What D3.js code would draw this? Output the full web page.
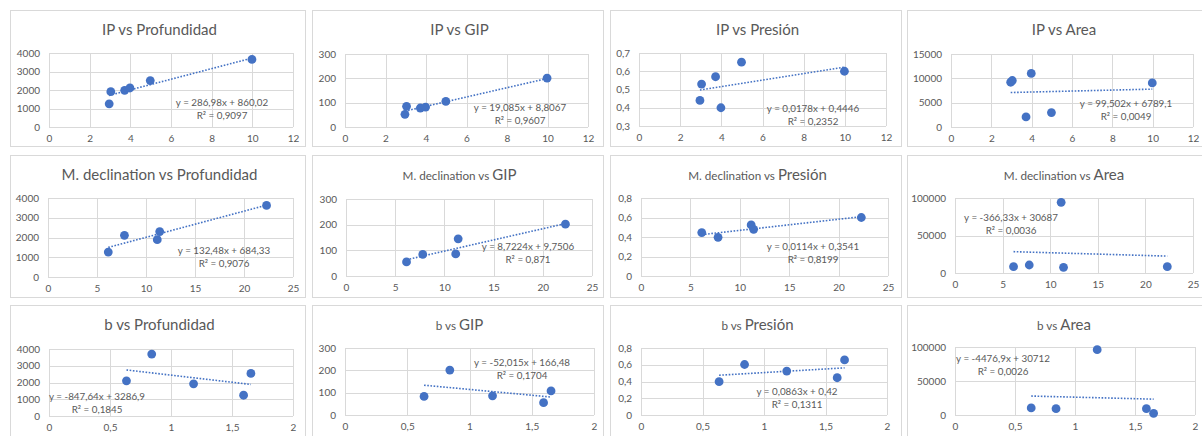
<!DOCTYPE html>
<html><head><meta charset="utf-8">
<script src="https://cdn.jsdelivr.net/npm/d3@7"></script>
<style>
html,body{margin:0;padding:0;background:#fff;}
svg{display:block;font-family:Lato,"Open Sans",sans-serif;}
</style></head><body>
<svg id="chart" width="1202" height="436"></svg>
<script>
// Independent variables, one per row of charts
const ipValues = [2.96, 3.04, 3.72, 3.98, 4.98, 9.98];
const declinationValues = [6.15, 7.8, 11.15, 11.4, 22.3];
const bValues = [0.635, 0.842, 1.185, 1.595, 1.655];

// Dependent variables
const ipProfundidad = [1255, 1909, 1982, 2109, 2509, 3655];
const ipGip = [52, 85, 78, 82, 105, 201];
const ipPresion = [0.44, 0.53, 0.57, 0.40, 0.65, 0.60];
const ipArea = [9200, 9550, 2070, 11000, 2970, 9050];

const declProfundidad = [1260, 2111, 1889, 2298, 3626];
const declGip = [55, 84, 86, 145, 202];
const declPresion = [0.445, 0.397, 0.524, 0.479, 0.6];
const declArea = [8444, 10667, 94222, 7556, 8444];

const bProfundidad = [2100, 3700, 1920, 1240, 2540];
const bGip = [83, 201, 86, 55, 108];
const bPresion = [0.398, 0.603, 0.524, 0.445, 0.658];
const bArea = [10345, 9360, 96059, 9360, 2463];

// Linear trendlines (row by row, left to right)
const slopes = [286.98, 19.085, 0.0178, 99.502, 132.48, 8.7224, 0.0114, -366.33, -847.64, -52.015, 0.0863, -4476.9];
const intercepts = [860.02, 8.8067, 0.4446, 6789.1, 684.33, 9.7506, 0.3541, 30687, 3286.9, 166.48, 0.42, 30712];
const rSquared = [0.9097, 0.9607, 0.2352, 0.0049, 0.9076, 0.871, 0.8199, 0.0036, 0.1845, 0.1704, 0.1311, 0.0026];

// Titles
const rowNames = ["IP", "M. declination", "b"];
const colNames = ["Profundidad", "GIP", "Presión", "Area"];

// Tick values
const xTicksIp = [0, 2, 4, 6, 8, 10, 12];
const xTicksDecl = [0, 5, 10, 15, 20, 25];
const xTicksB = [0, 0.5, 1, 1.5, 2];
const yTicksProfundidad = [0, 1000, 2000, 3000, 4000];
const yTicksGip = [0, 100, 200, 300];
const yTicksPresionIp = [0.3, 0.4, 0.5, 0.6, 0.7];
const yTicksPresion = [0, 0.2, 0.4, 0.6, 0.8];
const yTicksAreaIp = [0, 5000, 10000, 15000];
const yTicksArea = [0, 50000, 100000];

const rowX = [ipValues, declinationValues, bValues];
const rowXTicks = [xTicksIp, xTicksDecl, xTicksB];
const panelY = [
  [ipProfundidad, ipGip, ipPresion, ipArea],
  [declProfundidad, declGip, declPresion, declArea],
  [bProfundidad, bGip, bPresion, bArea]
];
const panelYTicks = [
  [yTicksProfundidad, yTicksGip, yTicksPresionIp, yTicksAreaIp],
  [yTicksProfundidad, yTicksGip, yTicksPresion, yTicksArea],
  [yTicksProfundidad, yTicksGip, yTicksPresion, yTicksArea]
];

// Layout: chart frames, plot areas [left, top, right, bottom], equation label centres
const frameX = [10, 312, 610, 907];
const frameW = [295, 291, 291, 310];
const frameY = [10, 155, 305];
const frameH = [136, 142, 140];
const plotRects = [
  [49, 53, 293, 127], [345, 54, 588, 127], [639, 53, 886, 126], [951, 54, 1193, 127],
  [48, 198, 293, 277], [346, 199, 592, 276], [641, 198, 888, 276], [955, 198, 1193, 273],
  [49, 349, 293, 416], [345, 348, 594, 415], [641, 348, 887, 415], [955, 347, 1195, 415]
];
const labelPos = [
  [222, 103], [520, 108], [813, 109], [1126, 104],
  [224, 251], [528, 247], [813, 247], [1011, 218],
  [97, 397], [522, 363], [797, 392], [1003, 359]
];

const fmt = v => String(v).replace(".", ",");
const svg = d3.select("#chart");
const blue = "#4472C4", grid = "#d9d9d9", text = "#595959";
const tickSize = "10px", labelSize = "9.8px", titleSize = "15px", titleSmall = "11.7px";

for (let r = 0; r < 3; r++) {
  for (let c = 0; c < 4; c++) {
    const i = r * 4 + c;
    const xs = rowX[r], ys = panelY[r][c];
    const xt = rowXTicks[r], yt = panelYTicks[r][c];
    const [L, T, R, B] = plotRects[i];
    const x = d3.scaleLinear().domain([xt[0], xt[xt.length - 1]]).range([L, R]);
    const y = d3.scaleLinear().domain([yt[0], yt[yt.length - 1]]).range([B, T]);
    const g = svg.append("g");

    g.append("rect").attr("x", frameX[c] + 0.5).attr("y", frameY[r] + 0.5)
      .attr("width", frameW[c]).attr("height", frameH[r])
      .attr("fill", "#fff").attr("stroke", grid).attr("stroke-width", 1);

    // title
    const tt = g.append("text").attr("x", frameX[c] + frameW[c] / 2 + 2).attr("y", frameY[r] + 25)
      .attr("text-anchor", "middle").attr("fill", text).style("font-size", titleSize);
    const smallPrefix = r > 0 && c > 0;
    tt.append("tspan").style("font-size", smallPrefix ? titleSmall : titleSize).text(rowNames[r] + " vs ");
    tt.append("tspan").text(colNames[c]);

    // gridlines
    g.append("g").selectAll("line").data(yt).join("line")
      .attr("x1", L).attr("x2", R).attr("y1", d => Math.round(y(d)) + 0.5).attr("y2", d => Math.round(y(d)) + 0.5)
      .attr("stroke", grid).attr("stroke-width", 1);
    g.append("g").selectAll("line").data(xt).join("line")
      .attr("y1", T).attr("y2", B).attr("x1", d => Math.round(x(d)) + 0.5).attr("x2", d => Math.round(x(d)) + 0.5)
      .attr("stroke", grid).attr("stroke-width", 1);

    // axis tick labels
    const yAxis = d3.axisLeft(y).tickValues(yt).tickFormat(fmt).tickSize(0).tickPadding(9);
    const ya = g.append("g").attr("transform", `translate(${L},0)`).call(yAxis);
    const xAxis = d3.axisBottom(x).tickValues(xt).tickFormat(fmt).tickSize(0).tickPadding(8);
    const xa = g.append("g").attr("transform", `translate(0,${B})`).call(xAxis);
    [ya, xa].forEach(a => {
      a.select(".domain").remove();
      a.selectAll("text").attr("fill", text).style("font-size", tickSize).style("font-family", "Lato, sans-serif");
    });

    // trendline
    const x0 = d3.min(xs), x1 = d3.max(xs);
    const f = v => slopes[i] * v + intercepts[i];
    g.append("line")
      .attr("x1", x(x0)).attr("y1", y(f(x0))).attr("x2", x(x1)).attr("y2", y(f(x1)))
      .attr("stroke", blue).attr("stroke-width", 1.6).attr("stroke-dasharray", "1.6,1.6");

    // points
    g.append("g").selectAll("circle").data(xs.map((v, k) => [v, ys[k]])).join("circle")
      .attr("cx", d => x(d[0])).attr("cy", d => y(d[1])).attr("r", 4.4).attr("fill", blue);

    // equation
    const [lx, ly] = labelPos[i];
    const eq = "y = " + fmt(slopes[i]) + "x + " + fmt(intercepts[i]);
    g.append("text").attr("x", lx).attr("y", ly).attr("dy", "0.35em").attr("text-anchor", "middle")
      .attr("fill", text).style("font-size", labelSize).text(eq);
    g.append("text").attr("x", lx).attr("y", ly + 13).attr("dy", "0.35em").attr("text-anchor", "middle")
      .attr("fill", text).style("font-size", labelSize).text("R² = " + fmt(rSquared[i]));
  }
}
</script>
</body></html>
